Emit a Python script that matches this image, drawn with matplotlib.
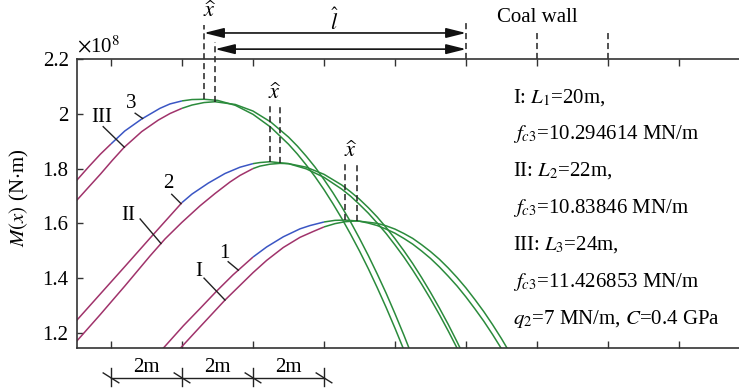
import matplotlib.pyplot as plt
import numpy as np

plt.rcParams['font.family'] = ['Liberation Serif', 'DejaVu Serif']
plt.rcParams['mathtext.fontset'] = 'stix'

PURPLE = '#a0336b'
BLUE = '#3b56c4'
GREEN = '#2b8b3c'
FS = 15

# bending moment M(x), x in m, M in 1e8 N*m
# curves 1-3 and I-III, one pair per panel length
x_3 = [1.0, 1.375, 1.704, 2.0, 2.386, 2.865, 3.380, 3.662, 4.0, 4.282, 4.620,
       5.0, 5.5, 6.0, 6.5, 7.0, 7.25, 7.5, 7.75, 8.0, 8.25, 8.5, 8.75, 9.0, 9.25,
       9.5, 9.75, 10.0, 10.25, 10.5]
m_3 = [1.752, 1.807, 1.853, 1.890, 1.937, 1.981, 2.020, 2.036, 2.047, 2.052, 2.053,
       2.049, 2.031, 1.998, 1.951, 1.889, 1.853, 1.813, 1.770, 1.723, 1.672, 1.618,
       1.560, 1.499, 1.434, 1.365, 1.293, 1.217, 1.138, 1.054]

x_III = [1.0, 1.375, 1.704, 2.037, 2.366, 2.865, 3.332, 3.662, 4.0, 4.282, 4.620, 4.930,
         5.5, 6.0, 6.5, 7.0, 7.25, 7.5, 7.75, 8.0, 8.25, 8.5, 8.75, 9.0, 9.25, 9.5,
         9.75, 10.0, 10.25, 10.5]
m_III = [1.679, 1.733, 1.780, 1.830, 1.877, 1.935, 1.977, 2.001, 2.020, 2.032, 2.041, 2.044,
         2.034, 2.010, 1.970, 1.915, 1.882, 1.845, 1.805, 1.760, 1.712, 1.660, 1.605,
         1.545, 1.482, 1.415, 1.345, 1.270, 1.192, 1.110]

x_2 = [1.0, 1.690, 2.394, 3.099, 4.0, 4.282, 4.741, 5.211, 5.634, 6.0, 6.197, 6.479,
       7.0, 7.5, 8.0, 8.5, 8.75, 9.0, 9.25, 9.5, 9.75, 10.0, 10.25, 10.5, 10.75,
       11.0, 11.25, 11.5, 11.75, 12.0]
m_2 = [1.241, 1.341, 1.443, 1.546, 1.676, 1.707, 1.747, 1.782, 1.805, 1.818, 1.822, 1.825,
       1.818, 1.799, 1.768, 1.725, 1.699, 1.669, 1.637, 1.601, 1.563, 1.521, 1.477,
       1.429, 1.378, 1.324, 1.267, 1.207, 1.144, 1.078]

x_II = [1.0, 1.690, 2.394, 3.099, 3.521, 3.992, 4.507, 4.930, 5.352, 5.634, 6.0, 6.197,
        6.479, 6.761, 7.0, 7.5, 8.0, 8.5, 8.75, 9.0, 9.25, 9.5, 9.75, 10.0, 10.25,
        10.5, 10.75, 11.0, 11.25, 11.5, 11.75, 12.0]
m_II = [1.165, 1.266, 1.372, 1.481, 1.543, 1.603, 1.664, 1.709, 1.751, 1.775, 1.800, 1.809,
        1.816, 1.819, 1.818, 1.805, 1.779, 1.740, 1.715, 1.688, 1.657, 1.623, 1.585,
        1.544, 1.500, 1.453, 1.402, 1.348, 1.291, 1.231, 1.167, 1.100]

x_1 = [3.380, 4.037, 4.507, 4.977, 5.437, 6.0, 6.386, 6.854, 7.324, 7.606, 8.0, 8.310,
       8.592, 9.0, 9.25, 9.5, 9.75, 10.0, 10.25, 10.5, 10.75, 11.0, 11.25, 11.5, 11.75,
       12.0, 12.25, 12.5, 12.75, 13.0, 13.25, 13.5]
m_1 = [1.131, 1.226, 1.289, 1.353, 1.412, 1.477, 1.514, 1.551, 1.580, 1.592, 1.605, 1.611,
       1.612, 1.608, 1.601, 1.592, 1.579, 1.564, 1.545, 1.524, 1.499, 1.472, 1.441,
       1.407, 1.371, 1.331, 1.288, 1.243, 1.194, 1.142, 1.087, 1.029]

x_I = [3.803, 4.507, 5.211, 6.0, 6.386, 6.854, 7.324, 7.690, 8.0, 8.310, 8.592, 8.921,
       9.5, 9.75, 10.0, 10.25, 10.5, 10.75, 11.0, 11.25, 11.5, 11.75, 12.0, 12.25,
       12.5, 12.75, 13.0, 13.25, 13.5]
m_I = [1.123, 1.222, 1.320, 1.420, 1.465, 1.512, 1.549, 1.570, 1.587, 1.599, 1.606, 1.609,
       1.600, 1.591, 1.579, 1.563, 1.545, 1.522, 1.497, 1.469, 1.437, 1.402, 1.364,
       1.322, 1.278, 1.230, 1.179, 1.124, 1.067]

# x where each curve changes colour (purple -> blue -> green)
breaks_3 = [2, 4]
breaks_III = [4]
breaks_2 = [4, 6]
breaks_II = [6]
breaks_1 = [6, 8]
breaks_I = [8]

xticks = [2, 4, 6, 8, 10, 12, 14, 16, 18]
yticks = [1.2, 1.4, 1.6, 1.8, 2.0, 2.2]
ytick_labels = ['1.2', '1.4', '1.6', '1.8', '2', '2.2']

coal_wall = 12
wall_marks = [14, 16]
span_marks = [2, 4, 6, 8]
span_label = '2m'

info_lines = [
    r'I: $L_1$=20m,',
    r'$f_{c3}$=10.294614 MN/m',
    r'II: $L_2$=22m,',
    r'$f_{c3}$=10.83846 MN/m',
    r'III: $L_3$=24m,',
    r'$f_{c3}$=11.426853 MN/m',
    r'$q_2$=7 MN/m, $C$=0.4 GPa',
]


def draw_curve(ax, x, y, breaks):
    x = np.asarray(x)
    y = np.asarray(y)
    colors = [PURPLE, BLUE, GREEN] if len(breaks) == 2 else [PURPLE, GREEN]
    edges = [x[0]] + list(breaks) + [x[-1]]
    for lo, hi, c in zip(edges[:-1], edges[1:], colors):
        sel = (x >= lo) & (x <= hi)
        ax.plot(x[sel], y[sel], color=c, lw=1.1, solid_capstyle='butt',
                solid_joinstyle='round')


fig = plt.figure(figsize=(7.39, 3.92), dpi=100)
ax = fig.add_axes([77 / 739, 44 / 392, 662 / 739, 289 / 392])

curves = [(x_3, m_3, breaks_3), (x_III, m_III, breaks_III),
          (x_2, m_2, breaks_2), (x_II, m_II, breaks_II),
          (x_1, m_1, breaks_1), (x_I, m_I, breaks_I)]
for cx, cy, br in curves:
    draw_curve(ax, cx, cy, br)

ax.set_xlim(1.042, 19.69)
ax.set_ylim(1.145, 2.2)

for side in ['left', 'top', 'bottom']:
    ax.spines[side].set_color('#333333')
    ax.spines[side].set_linewidth(1.2)
ax.spines['right'].set_visible(False)

ax.set_xticks(xticks)
ax.set_xticklabels([])
ax.tick_params(axis='x', direction='in', top=True, length=5, width=1, color='#333333')
ax.set_yticks(yticks)
ax.set_yticklabels(ytick_labels, fontsize=FS)
ax.tick_params(axis='y', direction='in', length=4.5, width=1, pad=6, color='#333333')

ax.set_ylabel(r'$M(x)$ (N$\cdot$m)', fontsize=FS)
ax.yaxis.set_label_coords(-0.07, 0.52)
ax.text(1.042, 2.245, r'$\times$10$^{8}$', fontsize=FS, ha='left', va='center', clip_on=False)

# curve labels with leader lines
curve_labels = [
    ('3', (2.58, 2.038), (2.68, 2.002), 2.89, x_3, m_3),
    ('III', (1.74, 1.986), (1.78, 1.953), 2.375, x_III, m_III),
    ('2', (3.61, 1.746), (3.71, 1.706), 3.972, x_2, m_2),
    ('II', (2.49, 1.628), (2.82, 1.616), 3.408, x_II, m_II),
    ('1', (5.18, 1.491), (5.30, 1.460), 5.586, x_1, m_1),
    ('I', (4.46, 1.424), (4.62, 1.400), 5.211, x_I, m_I),
]
for txt, (tx, ty), (sx, sy), ex, cx, cy in curve_labels:
    ax.text(tx, ty, txt, fontsize=FS, ha='center', va='center')
    ax.plot([sx, ex], [sy, np.interp(ex, cx, cy)], color='#222222', lw=1.0)

# peak positions x-hat for each pair
dash = (0, (4, 2.5))
pairs = [((x_3, m_3), (x_III, m_III), (2.324, 2.262), 2.372),
         ((x_2, m_2), (x_II, m_II), (2.032, 2.025), 2.075),
         ((x_1, m_1), (x_I, m_I), (1.820, 1.815), 1.862)]
peaks_top = []
for (ax_a, ay_a), (ax_b, ay_b), (top_a, top_b), label_y in pairs:
    ia, ib = int(np.argmax(ay_a)), int(np.argmax(ay_b))
    pa, pb = ax_a[ia], ax_b[ib]
    ax.plot([pa, pa], [ay_a[ia], top_a], color='#222222', lw=1.1, ls=dash, clip_on=False)
    ax.plot([pb, pb], [ay_b[ib], top_b], color='#222222', lw=1.1, ls=dash, clip_on=False)
    ax.text((pa + pb) / 2, label_y, r'$\widehat{x}$', fontsize=FS + 1, ha='center',
            va='center', clip_on=False)
    peaks_top.append((pa, pb))

# distance l-hat from the peak to the coal wall
pa, pb = peaks_top[0]
arrow = dict(arrowstyle='<|-|>,head_length=0.6,head_width=0.15', color='#111111',
             lw=1.2, shrinkA=0, shrinkB=0, mutation_scale=20)
ax.annotate('', xy=(pa, 2.295), xytext=(coal_wall, 2.295), arrowprops=arrow,
            annotation_clip=False)
ax.annotate('', xy=(pb, 2.236), xytext=(coal_wall, 2.236), arrowprops=arrow,
            annotation_clip=False)
ax.text(8.28, 2.336, r'$\widehat{l}$', fontsize=FS + 1, ha='center', va='center')

ax.plot([coal_wall, coal_wall], [2.2, 2.335], color='#222222', lw=1.1, ls=dash, clip_on=False)
for wx in wall_marks:
    ax.plot([wx, wx], [2.2, 2.295], color='#222222', lw=1.1, ls=dash, clip_on=False)
ax.text(14.0, 2.353, 'Coal wall', fontsize=FS, ha='center', va='center')

# dimension line under the axis
dim_y = 1.036
ax.plot([span_marks[0], span_marks[-1]], [dim_y, dim_y], color='#222222', lw=1.0, clip_on=False)
for sx in span_marks:
    ax.plot([sx, sx], [1.007, 1.072], color='#222222', lw=1.0, clip_on=False)
    ax.plot([sx - 0.22, sx + 0.22], [dim_y + 0.018, dim_y - 0.018], color='#222222',
            lw=1.0, clip_on=False)
for a, b in zip(span_marks[:-1], span_marks[1:]):
    ax.text((a + b) / 2, 1.072, span_label, fontsize=FS, ha='center', va='center', clip_on=False)

# parameters list
info_y = [2.061, 1.926, 1.791, 1.656, 1.521, 1.386, 1.251]
for txt, ty in zip(info_lines, info_y):
    ax.text(13.32, ty, txt, fontsize=FS, ha='left', va='center')

fig.savefig('out.png', dpi=100)
